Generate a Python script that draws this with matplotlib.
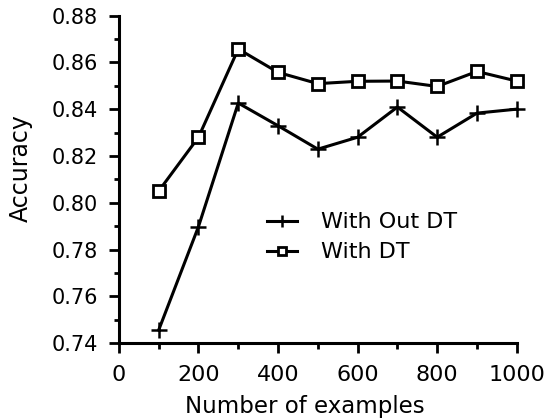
import numpy as np
import matplotlib
matplotlib.use('Agg')
import matplotlib.pyplot as plt
from matplotlib.ticker import MultipleLocator, FormatStrFormatter

examples = [100, 200, 300, 400, 500, 600, 700, 800, 900, 1000]
acc_without_dt = [0.7456, 0.7898, 0.8426, 0.8329, 0.8229, 0.828, 0.8409, 0.828, 0.8383, 0.840]
acc_with_dt = [0.805, 0.828, 0.8657, 0.8557, 0.8509, 0.8519, 0.852, 0.8497, 0.8561, 0.852]

plt.rcParams['font.family'] = ['DejaVu Sans']
fig = plt.figure(figsize=(5.48, 4.2), dpi=100)
ax = fig.add_axes([0.217, 0.183, 0.726, 0.78])

ax.plot(examples, acc_without_dt, color='black', lw=2.2, marker='+', ms=12, mew=1.8,
        label='With Out DT', clip_on=False, zorder=3)
ax.plot(examples, acc_with_dt, color='black', lw=2.2, marker='s', ms=9, mew=2,
        mfc='white', label='With DT', clip_on=False, zorder=3)

ax.set_xlim(0, 1000)
ax.set_ylim(0.74, 0.88)
ax.xaxis.set_major_locator(MultipleLocator(200))
ax.xaxis.set_minor_locator(MultipleLocator(100))
ax.yaxis.set_major_locator(MultipleLocator(0.02))
ax.yaxis.set_minor_locator(MultipleLocator(0.01))
ax.yaxis.set_major_formatter(FormatStrFormatter('%.2f'))

for s in ['top', 'right']:
    ax.spines[s].set_visible(False)
for s in ['left', 'bottom']:
    ax.spines[s].set_linewidth(2.2)

ax.tick_params(axis='y', which='major', direction='out', length=7, width=2, labelsize=15, pad=8)
ax.tick_params(axis='y', which='minor', direction='out', length=3.5, width=2)
ax.tick_params(axis='x', which='major', direction='out', length=7.5, width=2, labelsize=16, pad=8)
ax.tick_params(axis='x', which='minor', direction='out', length=4.5, width=2)

ax.set_xlabel('Number of examples', fontsize=16.5, va='baseline')
ax.xaxis.set_label_coords(0.467, -0.212)
ax.set_ylabel('Accuracy', fontsize=17)
ax.yaxis.set_label_coords(-0.216, 0.535)

ax.legend(frameon=False, loc='center left', bbox_to_anchor=(0.372, 0.3226), fontsize=16,
          borderpad=0, borderaxespad=0, handlelength=1.35, handletextpad=1.1,
          labelspacing=0.45, markerscale=0.7)

fig.savefig('out.png', dpi=100)
